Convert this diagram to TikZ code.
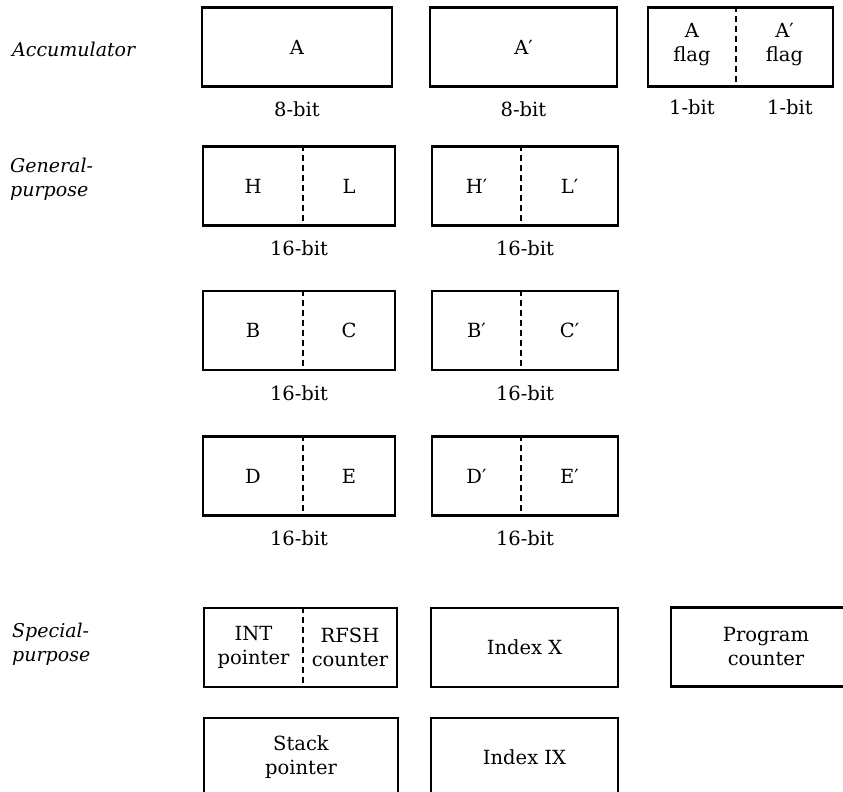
\documentclass[tikz,border=0pt]{standalone}
\usepackage{fontspec}
\setmainfont{DejaVu Serif}
\newcommand\regfont{\fontsize{19.5}{24}\selectfont}
\newcommand\catfont{\fontsize{19}{23.5}\selectfont\itshape}
\begin{document}
\begin{tikzpicture}[x=1pt,y=-1pt,
  reg/.style={draw, line width=2.6pt, inner sep=0pt, minimum height=79pt, font=\regfont, align=center},
  lbl/.style={inner sep=0pt, font=\regfont, align=center},
  bits/.style={inner sep=0pt, font=\regfont},
  cat/.style={inner sep=0pt, font=\catfont, align=left},
  divider/.style={line width=2.4pt, dash pattern=on 6pt off 4pt}]
\useasboundingbox (0,0) rectangle (843,792);
\clip (0,0) rectangle (843,792);

% ---- category headings
\node[cat, anchor=base west] (accum) at (12,57) {Accumulator};
\node[cat, anchor=north west] (general) at (10,158) {General-\\purpose};
\node[cat, anchor=north west] (special) at (12,623) {Special-\\purpose};

% ---- accumulator row
\node[reg, minimum width=190pt] (A) at (297,47) {A};
\node[reg, minimum width=187pt] (Ap) at (523.5,47) {A′};
\node[reg, minimum width=185pt] (flags) at (740.5,47) {};
\coordinate (flagdiv) at (736,47);
\draw[divider] (flags.north -| flagdiv) -- (flags.south -| flagdiv);
\node[lbl] (fA) at (692,45) {A\\flag};
\node[lbl] (fAp) at (784.5,45) {A′\\flag};
\node[bits] at ([yshift=-21pt]A.south) {8-bit};
\node[bits] at ([yshift=-21pt]Ap.south) {8-bit};
\node[bits] at (692,107) {1-bit};
\node[bits] at (790,107) {1-bit};

% ---- general-purpose register pairs
\foreach \nm/\hi/\lo/\yc in {HL/H/L/186, BC/B/C/330.5, DE/D/E/476} {
  \node[reg, minimum width=192pt] (\nm) at (299,\yc) {};
  \coordinate (\nm div) at (303,\yc);
  \draw[divider] (\nm.north -| \nm div) -- (\nm.south -| \nm div);
  \node[lbl] (\nm hi) at (253,\yc) {\hi};
  \node[lbl] (\nm lo) at (349,\yc) {\lo};
  \node[bits] at ([yshift=-21.5pt]\nm.south) {16-bit};
  \node[reg, minimum width=186pt] (\nm p) at (525,\yc) {};
  \coordinate (\nm pdiv) at (521,\yc);
  \draw[divider] (\nm p.north -| \nm pdiv) -- (\nm p.south -| \nm pdiv);
  \node[lbl] (\nm phi) at (476.5,\yc) {\hi′};
  \node[lbl] (\nm plo) at (569.5,\yc) {\lo′};
  \node[bits] at ([yshift=-21.5pt]\nm p.south) {16-bit};
}

% ---- special-purpose registers
\node[reg, minimum width=193pt] (IR) at (300.5,647.5) {};
\coordinate (IRdiv) at (303,647.5);
\draw[divider] (IR.north -| IRdiv) -- (IR.south -| IRdiv);
\node[lbl] (INT) at (253.5,647.5) {INT\\pointer};
\node[lbl] (RFSH) at (350,647.5) {RFSH\\counter};
\node[reg, minimum width=187pt] (IX) at (524.5,647.5) {Index X};
\node[reg, minimum width=190pt] (PC) at (766,647) {Program\\counter};
\node[reg, minimum width=194pt] (SP) at (301,757.5) {Stack\\pointer};
\node[reg, minimum width=187pt] (IY) at (524.5,757.5) {Index IX};
\end{tikzpicture}
\end{document}
